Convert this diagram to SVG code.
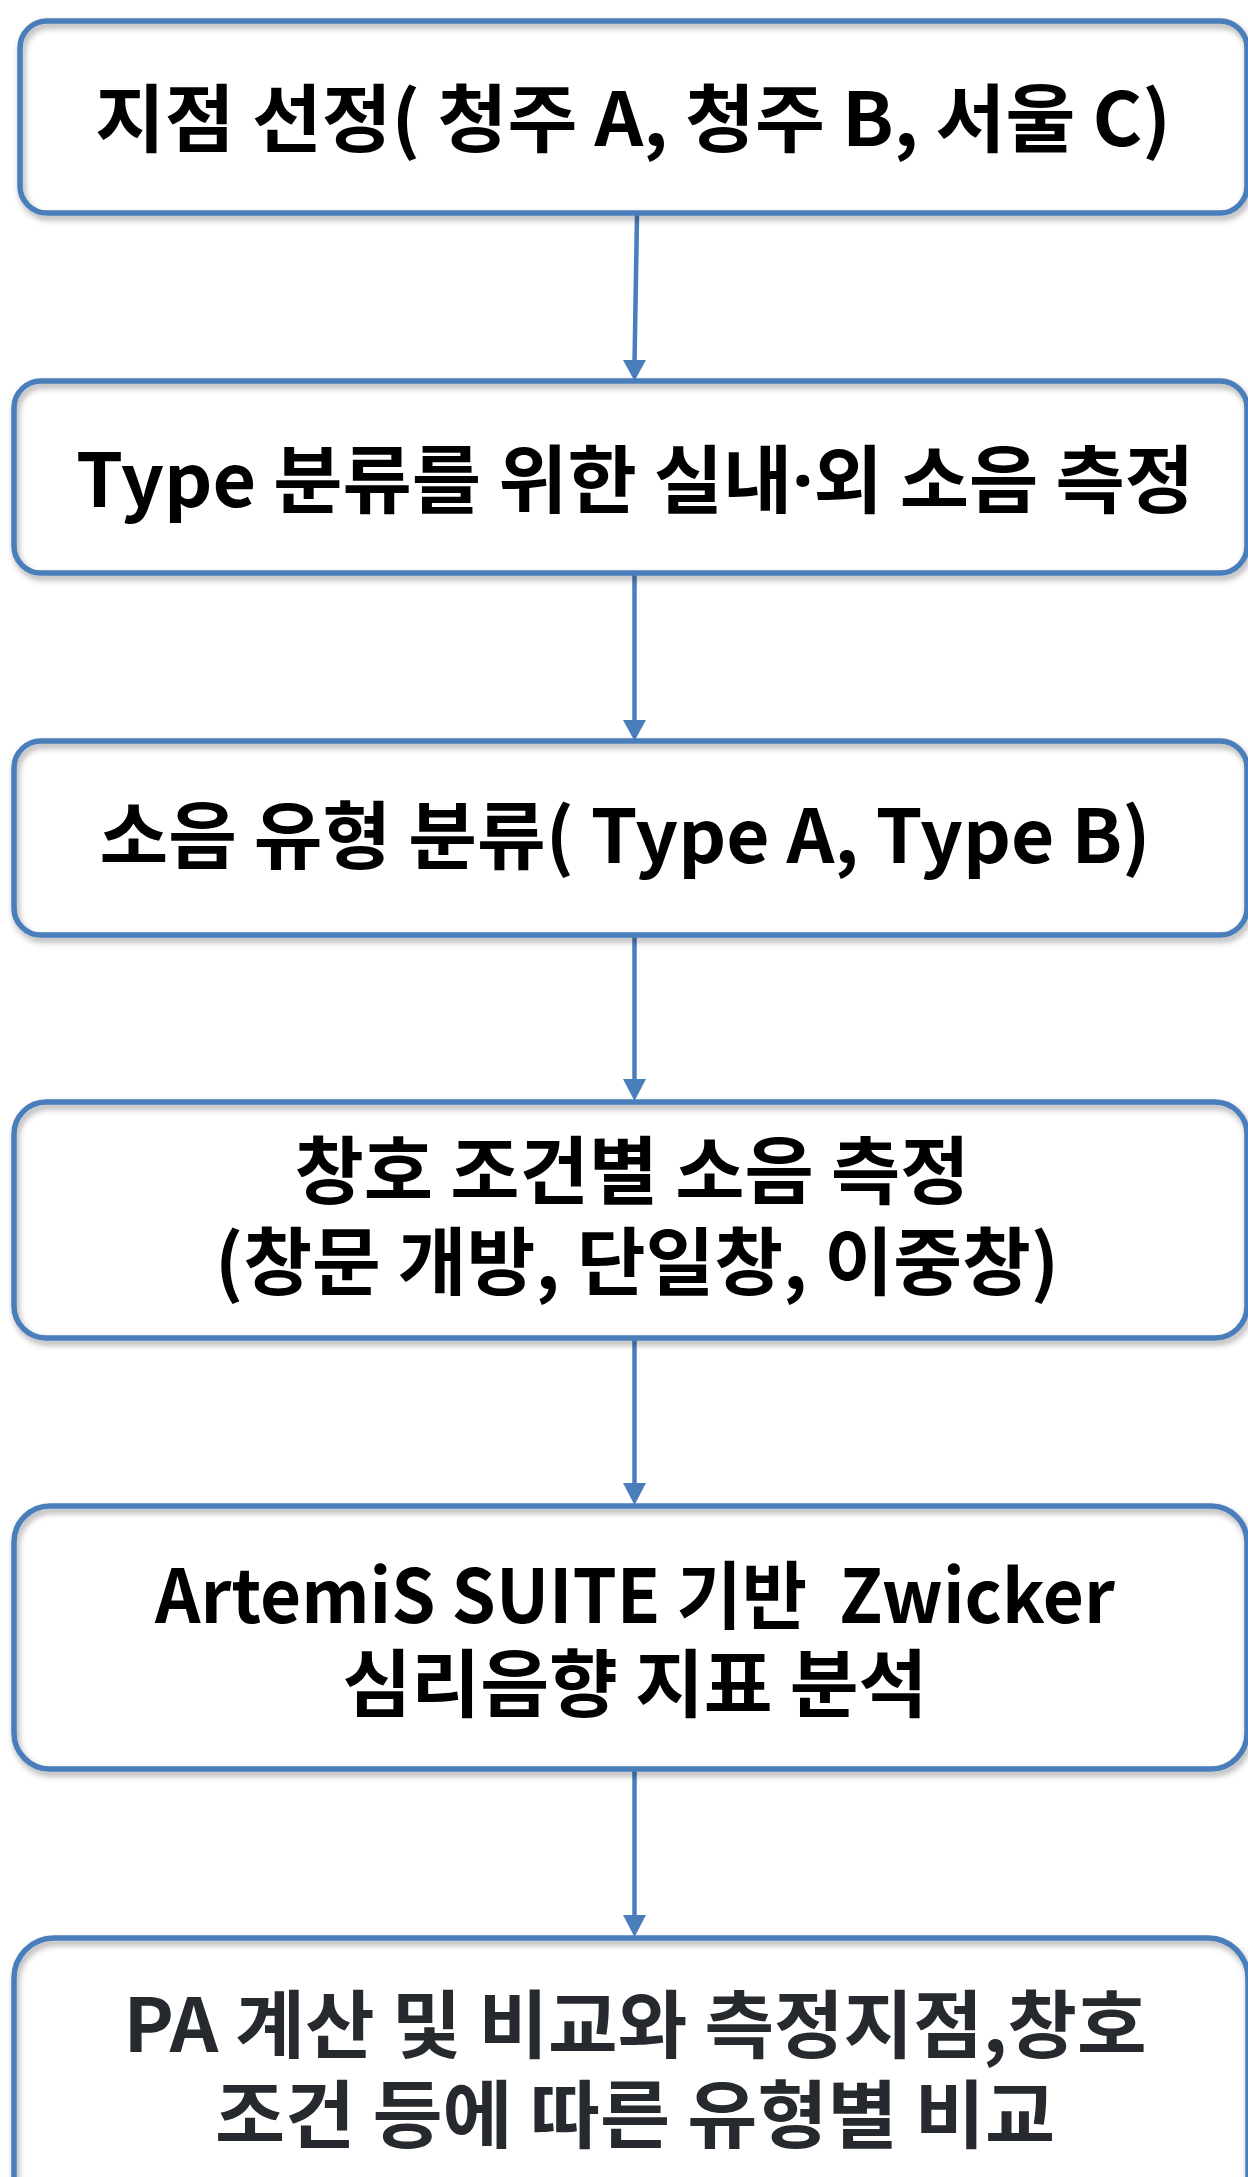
<svg xmlns="http://www.w3.org/2000/svg" width="1248" height="2177" viewBox="0 0 1248 2177">
  <defs>
    <filter id="shadow" x="-5%" y="-10%" width="110%" height="125%">
      <feDropShadow dx="2" dy="4" stdDeviation="3" flood-color="#000" flood-opacity="0.35"/>
    </filter>
    <style>
      .fill { fill: #ffffff; stroke: none; }
      .frame { fill: none; stroke: #4a7ebb; stroke-width: 5.5; filter: url(#shadow); }
      .label { font-family: "Noto Sans CJK KR", "Noto Sans", sans-serif; font-weight: bold; font-size: 74px; fill: #000000; text-anchor: middle; }
      .dark { fill: #262a2e; }
      .conn { stroke: #4a7ebb; stroke-width: 4.5; fill: none; }
      .head { fill: #4a7ebb; stroke: none; }
    </style>
  </defs>
  <rect width="1248" height="2177" fill="#ffffff"/>

  <g id="connectors">
    <line class="conn" x1="637" y1="215" x2="634.5" y2="364"/>
    <polygon class="head" points="623,360 646,360 634.5,381"/>
    <line class="conn" x1="634.5" y1="575" x2="634.5" y2="724"/>
    <polygon class="head" points="623,720 646,720 634.5,741"/>
    <line class="conn" x1="634.5" y1="937" x2="634.5" y2="1083"/>
    <polygon class="head" points="623,1079 646,1079 634.5,1101"/>
    <line class="conn" x1="634.5" y1="1340" x2="634.5" y2="1487"/>
    <polygon class="head" points="623,1483 646,1483 634.5,1505"/>
    <line class="conn" x1="634.5" y1="1771" x2="634.5" y2="1919"/>
    <polygon class="head" points="623,1915 646,1915 634.5,1937"/>
  </g>

  <g id="node1">
    <rect class="fill" x="20" y="21" width="1227" height="192" rx="27"/>
    <rect class="frame" x="20" y="21" width="1227" height="192" rx="27"/>
    <text class="label" x="633" y="146" textLength="1076" lengthAdjust="spacingAndGlyphs">지점 선정( 청주 A, 청주 B, 서울 C)</text>
  </g>

  <g id="node2">
    <rect class="fill" x="14" y="381" width="1233" height="192" rx="27"/>
    <rect class="frame" x="14" y="381" width="1233" height="192" rx="27"/>
    <text class="label" x="635" y="507" textLength="1118" lengthAdjust="spacingAndGlyphs">Type 분류를 위한 실내<tspan font-family="Noto Sans, sans-serif">·</tspan>외 소음 측정</text>
  </g>

  <g id="node3">
    <rect class="fill" x="14" y="741" width="1233" height="194" rx="27"/>
    <rect class="frame" x="14" y="741" width="1233" height="194" rx="27"/>
    <text class="label" x="625" y="863" textLength="1051" lengthAdjust="spacingAndGlyphs">소음 유형 분류( Type A, Type B)</text>
  </g>

  <g id="node4">
    <rect class="fill" x="14" y="1102" width="1233" height="236" rx="32"/>
    <rect class="frame" x="14" y="1102" width="1233" height="236" rx="32"/>
    <text class="label" x="632" y="1198" textLength="675" lengthAdjust="spacingAndGlyphs">창호 조건별 소음 측정</text>
    <text class="label" x="637" y="1289" textLength="844" lengthAdjust="spacingAndGlyphs">(창문 개방, 단일창, 이중창)</text>
  </g>

  <g id="node5">
    <rect class="fill" x="14" y="1506" width="1233" height="263" rx="36"/>
    <rect class="frame" x="14" y="1506" width="1233" height="263" rx="36"/>
    <text class="label" x="635" y="1623" textLength="960" lengthAdjust="spacingAndGlyphs" xml:space="preserve">ArtemiS SUITE 기반  Zwicker</text>
    <text class="label" x="635" y="1711" textLength="585" lengthAdjust="spacingAndGlyphs">심리음향 지표 분석</text>
  </g>

  <g id="node6">
    <rect class="fill" x="14" y="1938" width="1234" height="285" rx="40"/>
    <rect class="frame" x="14" y="1938" width="1234" height="285" rx="40"/>
    <text class="label dark" x="635" y="2052" textLength="1023" lengthAdjust="spacingAndGlyphs">PA 계산 및 비교와 측정지점,창호</text>
    <text class="label dark" x="635" y="2142" textLength="840" lengthAdjust="spacingAndGlyphs">조건 등에 따른 유형별 비교</text>
  </g>
</svg>
